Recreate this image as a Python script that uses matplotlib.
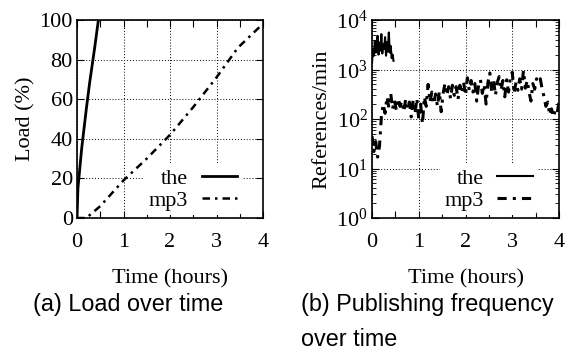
import matplotlib
matplotlib.use('Agg')
import matplotlib.pyplot as plt
import numpy as np
from matplotlib.ticker import MultipleLocator, LogLocator, NullFormatter

# (a) load over time
load_the_t = [0, 0.02, 0.1, 0.2, 0.27, 0.38, 0.46]
load_the = [0, 15, 35, 55, 68, 86, 100]
load_mp3_t = [0, 0.2, 0.5, 1.0, 1.5, 2.0, 2.5, 3.0, 3.46, 3.95]
load_mp3 = [0, 0, 6, 19, 30, 42, 56, 71, 86, 97]

# (b) publishing frequency (references/min)
freq_the = [1350, 2600, 1900, 3800, 2200, 3000, 4800, 2000, 3500, 2400,
            5200, 2100, 3300, 2600, 4500, 1900, 3600, 2300, 5600, 2200,
            3000, 1700, 2000, 1500]
freq_mp3 = [45, 22, 35, 17, 28, 110, 200, 130, 280, 170,
            330, 160, 240, 150, 260, 180, 230, 140, 250, 160,
            220, 110, 240, 130, 260, 100, 200, 80, 280, 180,
            500, 220, 350, 200, 320, 180, 360, 140, 320, 520,
            300, 450, 260, 480, 300, 450, 250, 480, 330, 550,
            300, 680, 380, 600, 350, 520, 230, 480, 620, 330,
            500, 200, 550, 850, 350, 620, 300, 550, 720, 380,
            600, 280, 620, 350, 700, 880, 330, 550, 380, 650,
            400, 950, 420, 600, 350, 230, 520, 400, 650, 550,
            650, 400, 280, 180, 220, 120, 160, 110, 150, 130,
            220]
freq_the_t = np.linspace(0, 0.46, len(freq_the))
freq_mp3_t = np.linspace(0, 4, len(freq_mp3))

serif = 'Liberation Serif'
plt.rcParams['font.family'] = serif
FS = 16

W, H = 585, 357
fig = plt.figure(figsize=(W / 100, H / 100), dpi=100)

def px_box(x0, y0, x1, y1):
    return [x0 / W, 1 - y1 / H, (x1 - x0) / W, (y1 - y0) / H]

ax1 = fig.add_axes(px_box(77, 20, 263, 218))
ax2 = fig.add_axes(px_box(372, 20, 559, 218))

dashdot = (0, (3, 2, 1, 2))

def style(ax):
    ax.set_xlim(0, 4)
    ax.xaxis.set_major_locator(MultipleLocator(1))
    ax.xaxis.set_minor_locator(MultipleLocator(0.5))
    ax.tick_params(which='both', direction='in', top=True, right=True,
                   labelsize=FS)
    ax.tick_params(axis='x', pad=10.5)
    ax.tick_params(axis='y', pad=3)
    ax.tick_params(which='major', length=5, width=0.8)
    ax.tick_params(axis='x', which='minor', length=5, width=0.8)
    ax.grid(True, which='major', color='black', linestyle=(0, (1, 2)), linewidth=0.7)
    for s in ax.spines.values():
        s.set_linewidth(1.2)
    ax.set_xlabel('Time (hours)', fontsize=FS, labelpad=12.5)

ax1.plot(load_the_t, load_the, color='black', linewidth=2, label='the')
ax1.plot(load_mp3_t, load_mp3, color='black', linewidth=1.8, linestyle=dashdot, label='mp3')
ax1.set_ylim(0, 100)
ax1.yaxis.set_major_locator(MultipleLocator(20))
style(ax1)
ax1.set_ylabel('Load (%)', fontsize=FS, labelpad=3)

ax2.plot(freq_the_t, freq_the, color='black', linewidth=1.5, label='the')
ax2.plot(freq_mp3_t, freq_mp3, color='black', linewidth=2.2, linestyle=dashdot, label='mp3')
ax2.set_yscale('log')
ax2.set_ylim(1, 1e4)
ax2.yaxis.set_major_locator(LogLocator(base=10, numticks=10))
ax2.yaxis.set_minor_locator(LogLocator(base=10, subs=np.arange(2, 10), numticks=10))
ax2.yaxis.set_minor_formatter(NullFormatter())
style(ax2)
ax2.tick_params(axis='y', which='minor', direction='in', length=3, width=0.6)
ax2.set_ylabel('References/min', fontsize=FS, labelpad=3)

for ax in (ax1, ax2):
    leg = ax.legend(loc='lower right', bbox_to_anchor=(0.885, 0.015),
                    markerfirst=False, frameon=True, fontsize=FS,
                    handlelength=1.6, handletextpad=0.6, labelspacing=0.05,
                    borderpad=0.2, borderaxespad=0)
    leg.get_frame().set_facecolor('white')
    leg.get_frame().set_edgecolor('none')
    leg.get_frame().set_alpha(1)
    for t in leg.get_texts():
        t.set_ha('right')

sans = 'Liberation Sans'
fig.text(33 / W, 1 - 305 / H, '(a) Load over time', family=sans, fontsize=16.8, va='center')
fig.text(301 / W, 1 - 305 / H, '(b) Publishing frequency', family=sans, fontsize=16.8, va='center')
fig.text(301 / W, 1 - 340 / H, 'over time', family=sans, fontsize=16.8, va='center')

fig.savefig('out.png', dpi=100)
